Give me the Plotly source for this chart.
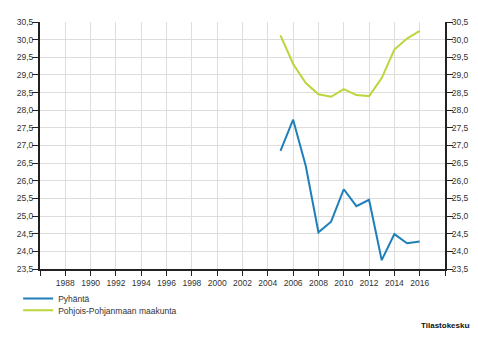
import plotly.graph_objects as go

# data
years = list(range(2005, 2017))
pyhanta = [26.85, 27.73, 26.42, 24.54, 24.84, 25.76, 25.28, 25.46, 23.75, 24.49, 24.23, 24.28]
pohjois = [30.12, 29.31, 28.77, 28.45, 28.38, 28.60, 28.43, 28.40, 28.91, 29.72, 30.03, 30.25]
x_ticks = list(range(1986, 2019, 2))
x_labels = ["" if v in (1986, 2018) else str(v) for v in x_ticks]
y_ticks = [23.5 + 0.5 * i for i in range(15)]

family = "Liberation Sans, Arial, sans-serif"
tick_font = dict(family=family, size=8.5, color="#333333")
leg_font = dict(family=family, size=8.5, color="#333333")

fig = go.Figure()
fig.add_trace(go.Scatter(x=years, y=pyhanta, mode="lines", name="Pyhäntä",
                         line=dict(color="#1f7fb9", width=2), legend="legend"))
fig.add_trace(go.Scatter(x=years, y=pohjois, mode="lines", name="Pohjois-Pohjanmaan maakunta",
                         line=dict(color="#bcd53a", width=2), legend="legend2"))
# invisible trace so the right-hand axis is drawn
fig.add_trace(go.Scatter(x=[years[0]], y=[pyhanta[0]], yaxis="y2", mode="lines",
                         showlegend=False, hoverinfo="skip", line=dict(width=0)))

# page body has an 8px default margin, so the figure is 8px smaller
fig.update_layout(
    width=470, height=329,
    margin=dict(l=29, r=32, t=9, b=68),
    paper_bgcolor="white", plot_bgcolor="white",
    font=tick_font,
    separators=", ",
    xaxis=dict(range=[1986, 2018], tickvals=x_ticks, ticktext=x_labels,
               showgrid=True, gridcolor="#dddddd", gridwidth=1,
               showline=True, linecolor="#222222", linewidth=2,
               ticks="outside", ticklen=5, tickcolor="#222222", zeroline=False),
    yaxis=dict(range=[23.5, 30.5], tickvals=y_ticks, tickformat=".1f",
               showgrid=True, gridcolor="#dddddd", gridwidth=1,
               showline=True, linecolor="#222222", linewidth=2,
               ticks="outside", ticklen=6, tickcolor="#222222", zeroline=False,
               ticklabelstandoff=-3),
    yaxis2=dict(range=[23.5, 30.5], tickvals=y_ticks, tickformat=".1f",
                overlaying="y", side="right", showgrid=False,
                showline=True, linecolor="#222222", linewidth=2,
                ticks="outside", ticklen=6, tickcolor="#222222", zeroline=False,
                ticklabelstandoff=-3),
    legend=dict(x=-0.054, y=-0.119, xanchor="left", yanchor="middle",
                font=leg_font, bgcolor="rgba(0,0,0,0)"),
    legend2=dict(x=-0.054, y=-0.167, xanchor="left", yanchor="middle",
                 font=leg_font, bgcolor="rgba(0,0,0,0)"),
    showlegend=True,
)

fig.add_annotation(text="<b>Tilastokeskus</b>", xref="paper", yref="paper",
                   x=1.0758, y=-0.230, xanchor="right", yanchor="middle",
                   showarrow=False, font=dict(family=family, size=8, color="#111111"))

fig.write_html("out.html")
